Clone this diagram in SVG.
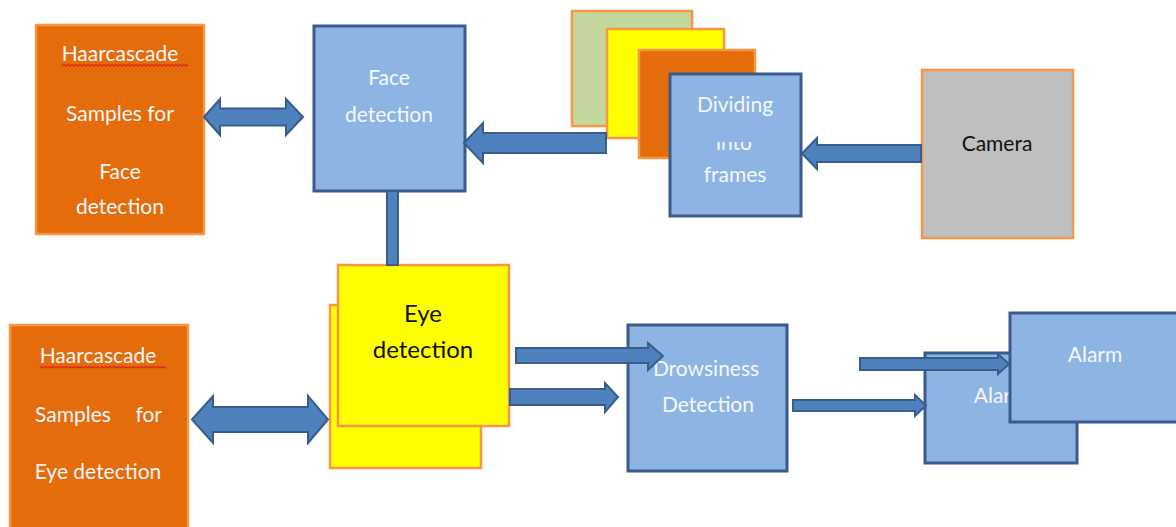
<svg xmlns="http://www.w3.org/2000/svg" width="1176" height="527" viewBox="0 0 1176 527">
  <style>
    .orange { fill: #E46C0A; stroke: #F79646; stroke-width: 2.5; }
    .blue { fill: #8EB4E3; stroke: #385D8A; stroke-width: 3; }
    .yellow { fill: #FFFF00; stroke: #F79646; stroke-width: 2.5; }
    .green { fill: #C3D69B; stroke: #F79646; stroke-width: 2.5; }
    .grey { fill: #BFBFBF; stroke: #F79646; stroke-width: 2.5; }
    .arrow { fill: #4F81BD; stroke: #385D8A; stroke-width: 2; stroke-linejoin: miter; }
    .lbl { font-family: "Lato", "Liberation Sans", sans-serif; font-size: 21px; fill: #F4F7FB; text-anchor: middle; }
    .dark { fill: #111111; }
    .eye { font-size: 24px; }
    .squiggle { fill: none; stroke: #E02424; stroke-width: 1.2; }
  </style>
  <defs>
    <clipPath id="intoClip">
      <rect x="700" y="142" width="70" height="20"/>
    </clipPath>
  </defs>

  <rect width="1176" height="527" fill="#FFFFFF"/>

  <!-- Haar cascade samples for face detection -->
  <g id="face-samples">
    <rect class="orange" x="36" y="25" width="168" height="209"/>
    <text class="lbl" x="120" y="61">Haarcascade</text>
    <path class="squiggle" d="M62,66 l2,-1.5 l2,1.5 l2,-1.5 l2,1.5 l2,-1.5 l2,1.5 l2,-1.5 l2,1.5 l2,-1.5 l2,1.5 l2,-1.5 l2,1.5 l2,-1.5 l2,1.5 l2,-1.5 l2,1.5 l2,-1.5 l2,1.5 l2,-1.5 l2,1.5 l2,-1.5 l2,1.5 l2,-1.5 l2,1.5 l2,-1.5 l2,1.5 l2,-1.5 l2,1.5 l2,-1.5 l2,1.5 l2,-1.5 l2,1.5 l2,-1.5 l2,1.5 l2,-1.5 l2,1.5 l2,-1.5 l2,1.5 l2,-1.5 l2,1.5 l2,-1.5 l2,1.5 l2,-1.5 l2,1.5 l2,-1.5 l2,1.5 l2,-1.5 l2,1.5 l2,-1.5 l2,1.5 l2,-1.5 l2,1.5 l2,-1.5 l2,1.5 l2,-1.5 l2,1.5 l2,-1.5 l2,1.5 l2,-1.5 l2,1.5 l2,-1.5 l2,1.5 l2,-1.5"/>
    <text class="lbl" x="120" y="121">Samples for</text>
    <text class="lbl" x="120" y="179">Face</text>
    <text class="lbl" x="120" y="214">detection</text>
  </g>

  <!-- Face detection -->
  <g id="face-detection">
    <rect class="blue" x="314" y="26" width="151" height="165"/>
    <text class="lbl" x="389" y="85">Face</text>
    <text class="lbl" x="389" y="122">detection</text>
  </g>

  <!-- Stack of frames behind the splitter -->
  <g id="frame-stack">
    <rect class="green" x="572" y="11" width="120" height="115"/>
    <rect class="yellow" x="607" y="29" width="117" height="109"/>
    <rect class="orange" x="639" y="50" width="116" height="108"/>
  </g>

  <!-- Dividing into frames -->
  <g id="dividing-frames">
    <rect class="blue" x="670" y="74" width="131" height="142"/>
    <text class="lbl" x="735" y="112">Dividing</text>
    <text class="lbl" x="734" y="150" clip-path="url(#intoClip)">into</text>
    <text class="lbl" x="735" y="182">frames</text>
  </g>

  <!-- Camera -->
  <g id="camera">
    <rect class="grey" x="922" y="70" width="151" height="168"/>
    <text class="lbl dark" x="997" y="151">Camera</text>
  </g>

  <!-- Haar cascade samples for eye detection -->
  <g id="eye-samples">
    <rect class="orange" x="10" y="325" width="178" height="215"/>
    <text class="lbl" x="98" y="363">Haarcascade</text>
    <path class="squiggle" d="M40,368 l2,-1.5 l2,1.5 l2,-1.5 l2,1.5 l2,-1.5 l2,1.5 l2,-1.5 l2,1.5 l2,-1.5 l2,1.5 l2,-1.5 l2,1.5 l2,-1.5 l2,1.5 l2,-1.5 l2,1.5 l2,-1.5 l2,1.5 l2,-1.5 l2,1.5 l2,-1.5 l2,1.5 l2,-1.5 l2,1.5 l2,-1.5 l2,1.5 l2,-1.5 l2,1.5 l2,-1.5 l2,1.5 l2,-1.5 l2,1.5 l2,-1.5 l2,1.5 l2,-1.5 l2,1.5 l2,-1.5 l2,1.5 l2,-1.5 l2,1.5 l2,-1.5 l2,1.5 l2,-1.5 l2,1.5 l2,-1.5 l2,1.5 l2,-1.5 l2,1.5 l2,-1.5 l2,1.5 l2,-1.5 l2,1.5 l2,-1.5 l2,1.5 l2,-1.5 l2,1.5 l2,-1.5 l2,1.5 l2,-1.5 l2,1.5 l2,-1.5 l2,1.5 l2,-1.5"/>
    <text class="lbl" x="35" y="422" style="text-anchor:start">Samples</text>
    <text class="lbl" x="162" y="422" style="text-anchor:end">for</text>
    <text class="lbl" x="98" y="479">Eye detection</text>
  </g>

  <!-- Eye detection (stacked) -->
  <g id="eye-detection">
    <rect class="yellow" x="330" y="305" width="151" height="163"/>
    <rect class="yellow" x="338" y="265" width="171" height="161"/>
    <text class="lbl dark eye" x="423" y="322">Eye</text>
    <text class="lbl dark eye" x="423" y="358">detection</text>
  </g>

  <!-- Drowsiness detection -->
  <g id="drowsiness-detection">
    <rect class="blue" x="628" y="325" width="159" height="146"/>
    <text class="lbl" x="706" y="376">Drowsiness</text>
    <text class="lbl" x="708" y="412">Detection</text>
  </g>

  <!-- Alarm (rear copy) -->
  <g id="alarm-back">
    <rect class="blue" x="925" y="353" width="152" height="110"/>
    <text class="lbl" x="1001" y="403">Alarm</text>
  </g>

  <!-- Alarm (front copy) -->
  <g id="alarm-front">
    <rect class="blue" x="1010" y="313" width="175" height="109"/>
    <text class="lbl" x="1095" y="362">Alarm</text>
  </g>

  <!-- Block arrows between the stages -->
  <g id="connectors">
    <path class="arrow" d="M204,117 L220,99 L220,108.5 L286,108.5 L286,99 L303,117 L286,135 L286,125.5 L220,125.5 L220,135 Z"/>
    <rect class="arrow" x="387" y="191" width="11" height="74"/>
    <path class="arrow" d="M464,143 L483,123 L483,133 L606,133 L606,153 L483,153 L483,163 Z"/>
    <path class="arrow" d="M802,153.5 L817,138 L817,145 L921,145 L921,162 L817,162 L817,169 Z"/>
    <path class="arrow" d="M192,419.5 L213,396 L213,407 L308,407 L308,396 L328,419.5 L308,443 L308,432 L213,432 L213,443 Z"/>
    <path class="arrow" d="M516,348 L648,348 L648,343 L663,356 L648,370 L648,363 L516,363 Z"/>
    <path class="arrow" d="M510,389 L605,389 L605,383 L618,397 L605,412 L605,405 L510,405 Z"/>
    <path class="arrow" d="M793,400 L915,400 L915,395 L926,405.5 L915,416 L915,411 L793,411 Z"/>
    <path class="arrow" d="M860,358 L998,358 L998,354 L1009,364 L998,374 L998,370 L860,370 Z"/>
  </g>
</svg>
